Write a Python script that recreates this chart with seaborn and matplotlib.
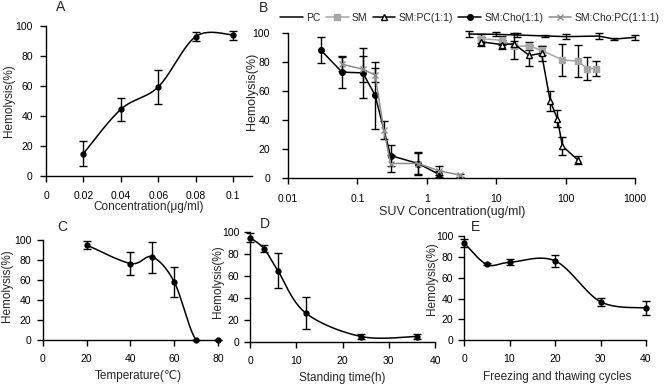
import numpy as np
import seaborn as sns
import matplotlib
matplotlib.use("Agg")
import matplotlib.pyplot as plt

# --- Data: panel A (concentration) ---
a_conc = [0.02, 0.04, 0.06, 0.08, 0.1]
a_hemo = [15, 44.5, 59.5, 93, 94]
a_err = [8.5, 7.5, 11.5, 3, 3]

# --- Data: panel B (SUV concentration, log axis) ---
pc_x = [4, 10, 20, 50, 100, 300, 500, 1000]
pc_y = [99.3, 99.1, 98.6, 98.0, 97.5, 97.9, 95.8, 97.0]
pc_err = [2, 1.5, 1.5, 0.8, 1.5, 1.8, 0.8, 1.5]

sm_x = [6, 12, 18, 30, 45, 90, 150, 205, 270]
sm_y = [96, 95, 91, 91, 88, 81.5, 80.5, 75.5, 75.5]
sm_err = [3, 3, 9, 3, 3, 11, 11, 8, 5]

smpc_x = [6, 12, 18, 30, 45, 60, 76, 90, 150]
smpc_y = [94, 92, 92.5, 84.5, 86, 53, 41, 22, 12.5]
smpc_err = [3, 3, 2, 7, 5, 7, 6, 6, 3]

smcho_x = [0.03, 0.06, 0.12, 0.18, 0.3, 0.75, 1.5]
smcho_y = [88, 73, 72.5, 57, 15.5, 10, 2.5]
smcho_err = [9, 11, 17.5, 23, 7, 7, 2]

smchopc_x = [0.06, 0.12, 0.18, 0.24, 0.3, 0.75, 1.5, 3]
smchopc_y = [78.5, 75, 71, 33, 10, 10, 5, 2]
smchopc_err = [5, 9, 5, 6, 6, 8, 3, 1]

b_labels = ["PC", "SM", "SM:PC(1:1)", "SM:Cho(1:1)", "SM:Cho:PC(1:1:1)"]

# --- Data: panel C (temperature) ---
c_temp = [20, 40, 50, 60, 70, 80]
c_hemo = [95, 76.5, 83, 58, 0, 0]
c_err = [4, 11.5, 15.5, 15, 0, 0]

# --- Data: panel D (standing time) ---
d_time = [0, 3, 6, 12, 24, 36]
d_hemo = [95, 85, 65, 26.5, 5, 5]
d_err = [4, 3, 16, 14.5, 2, 2]

# --- Data: panel E (freeze/thaw cycles) ---
e_cycles = [0, 5, 10, 20, 30, 40]
e_hemo = [94, 73, 75, 76.5, 37, 31]
e_err = [4, 1, 3, 6, 4, 7]


def smooth(x, y, n=40):
    # Excel-like smoothed line (Catmull-Rom style bezier)
    x = np.asarray(x, float)
    y = np.asarray(y, float)
    px = np.concatenate([[x[0]], x, [x[-1]]])
    py = np.concatenate([[y[0]], y, [y[-1]]])
    t = np.linspace(0, 1, n)
    xs, ys = [], []
    for i in range(len(x) - 1):
        p0 = np.array([px[i], py[i]])
        p1 = np.array([px[i + 1], py[i + 1]])
        p2 = np.array([px[i + 2], py[i + 2]])
        p3 = np.array([px[i + 3], py[i + 3]])
        c1 = p1 + (p2 - p0) / 6
        c2 = p2 - (p3 - p1) / 6
        b = ((1 - t) ** 3)[:, None] * p1 + (3 * (1 - t) ** 2 * t)[:, None] * c1 \
            + (3 * (1 - t) * t ** 2)[:, None] * c2 + (t ** 3)[:, None] * p2
        xs.append(b[:, 0])
        ys.append(b[:, 1])
    return np.concatenate(xs), np.concatenate(ys)


sns.set_theme(style="ticks")
plt.rcParams["font.family"] = ["Liberation Sans", "DejaVu Sans"]
plt.rcParams["axes.linewidth"] = 1.0

W, H = 668, 389
fig = plt.figure(figsize=(W / 100, H / 100), dpi=100)


def make_ax(x0, x1, ytop, ybot):
    return fig.add_axes([x0 / W, 1 - ybot / H, (x1 - x0) / W, (ybot - ytop) / H])


def style(ax, xpad, ypad):
    sns.despine(ax=ax)
    ax.set_ylim(0, 100)
    ax.set_yticks(range(0, 101, 20))
    ax.tick_params(axis="both", direction="out", length=4, width=1,
                   colors="black", labelsize=7.5)
    ax.tick_params(axis="x", pad=xpad)
    ax.tick_params(axis="y", pad=ypad)
    for s in ax.spines.values():
        s.set_color("black")


def curve_panel(ax, x, y, err):
    sx, sy = smooth(x, y)
    sns.lineplot(x=sx, y=sy, ax=ax, color="black", linewidth=1.1, sort=False,
                 estimator=None)
    ax.errorbar(x, y, yerr=err, fmt="o", color="black", markersize=3.5,
                capsize=3, elinewidth=1, capthick=1, clip_on=False, zorder=3)


# --- Panel A ---
axA = make_ax(46, 252, 26, 176)
curve_panel(axA, a_conc, a_hemo, a_err)
axA.set_xlim(0, 0.11)
axA.set_xticks([0, 0.02, 0.04, 0.06, 0.08, 0.1])
axA.set_xticklabels(["0", "0.02", "0.04", "0.06", "0.08", "0.1"])
style(axA, 7, 5.5)
axA.set_xlabel("Concentration(μg/ml)", fontsize=8.5, va="top")
axA.set_ylabel("Hemolysis(%)", fontsize=8.5)
axA.xaxis.set_label_coords(0.5, -0.165)
axA.yaxis.set_label_coords(-0.15, 0.5)

# --- Panel B ---
axB = make_ax(288, 635, 33, 178)
series = [
    (pc_x, pc_y, pc_err, "black", None, "black"),
    (sm_x, sm_y, sm_err, "#a6a6a6", "s", "#a6a6a6"),
    (smpc_x, smpc_y, smpc_err, "black", "^", "white"),
    (smcho_x, smcho_y, smcho_err, "black", "o", "black"),
    (smchopc_x, smchopc_y, smchopc_err, "#8c8c8c", "x", "#8c8c8c"),
]
for (x, y, err, col, mk, fc), lab in zip(series, b_labels):
    axB.errorbar(x, y, yerr=err, fmt="none", ecolor="black", capsize=3,
                 elinewidth=1, capthick=1, clip_on=False, zorder=2)
    sns.lineplot(x=x, y=y, ax=axB, color=col, linewidth=1.1, marker=mk,
                 markersize=4, markerfacecolor=fc, markeredgecolor=col,
                 markeredgewidth=1, label=lab, sort=False, estimator=None,
                 zorder=3, clip_on=False)
axB.set_xscale("log")
axB.set_xlim(0.01, 1000)
axB.set_xticks([0.01, 0.1, 1, 10, 100, 1000])
axB.set_xticklabels(["0.01", "0.1", "1", "10", "100", "1000"])
axB.minorticks_off()
style(axB, 7.5, 9)
axB.set_xlabel("SUV Concentration(ug/ml)", fontsize=9, va="top")
axB.set_ylabel("Hemolysis(%)", fontsize=9)
axB.xaxis.set_label_coords(0.472, -0.19)
axB.yaxis.set_label_coords(-0.086, 0.6)
handles, labels = axB.get_legend_handles_labels()
axB.get_legend().remove()
fig.legend(handles, labels, loc="center left", bbox_to_anchor=(280 / W, 1 - 18 / H),
           ncol=5, frameon=False, fontsize=7.5, handlelength=2.2,
           handletextpad=0.3, columnspacing=0.5, borderaxespad=0, borderpad=0)

# --- Panel C ---
axC = make_ax(43, 218, 240, 340)
curve_panel(axC, c_temp, c_hemo, c_err)
axC.set_xlim(0, 80)
axC.set_xticks(range(0, 81, 20))
style(axC, 6, 4.5)
axC.set_xlabel("Temperature(℃)", fontsize=8.5, va="top")
axC.set_ylabel("Hemolysis(%)", fontsize=8.5)
axC.xaxis.set_label_coords(0.546, -0.30)
axC.yaxis.set_label_coords(-0.17, 0.545)

# --- Panel D ---
axD = make_ax(250, 435, 232, 342)
curve_panel(axD, d_time, d_hemo, d_err)
axD.set_xlim(0, 40)
axD.set_xticks(range(0, 41, 10))
style(axD, 6, 3.6)
axD.set_xlabel("Standing time(h)", fontsize=8.5, va="top")
axD.set_ylabel("Hemolysis(%)", fontsize=8.5)
axD.xaxis.set_label_coords(0.496, -0.27)
axD.yaxis.set_label_coords(-0.14, 0.545)

# --- Panel E ---
axE = make_ax(464, 646, 236.5, 340)
curve_panel(axE, e_cycles, e_hemo, e_err)
axE.set_xlim(0, 40)
axE.set_xticks(range(0, 41, 10))
style(axE, 6, 3.6)
axE.set_xlabel("Freezing and thawing cycles", fontsize=8.5, va="top")
axE.set_ylabel("Hemolysis(%)", fontsize=8.5)
axE.xaxis.set_label_coords(0.514, -0.297)
axE.yaxis.set_label_coords(-0.143, 0.59)

# --- Panel letters ---
for letter, (px, py) in zip("ABCDE", [(61, 7), (264, 7.5), (62, 227), (264.5, 224), (475, 227)]):
    fig.text(px / W, 1 - py / H, letter, fontsize=10, ha="center", va="center")

fig.savefig("out.png", dpi=100)
